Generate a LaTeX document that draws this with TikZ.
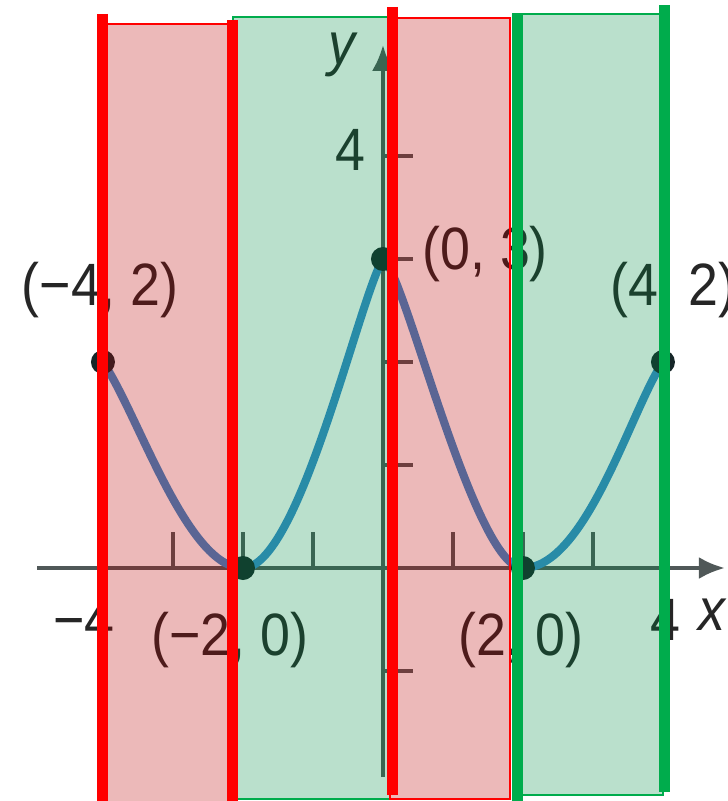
\documentclass[tikz,border=0pt]{standalone}
\usepackage{fontspec}
\setmainfont{Liberation Sans}[FakeStretch=0.9]
\usetikzlibrary{arrows.meta}

\definecolor{axisgray}{RGB}{80,88,88}
\definecolor{curveblue}{RGB}{55,140,205}
\definecolor{dotdark}{RGB}{22,38,40}
\definecolor{labelgray}{RGB}{38,38,38}
\definecolor{bandred}{RGB}{186,0,0}
\definecolor{bandgreen}{RGB}{0,139,68}
\definecolor{bargreen}{RGB}{0,172,76}

\begin{document}
\begin{tikzpicture}[
		x=0.7cm, y=1.03cm,
		axis/.style={draw=axisgray, line width=1.2pt},
		tick/.style={draw=axisgray, line width=0.9pt},
		curve/.style={draw=curveblue, line width=2.3pt, line cap=round},
		dot/.style={fill=dotdark},
		lbl/.style={text=labelgray, font=\fontsize{17}{19}\selectfont, inner sep=0pt},
		redband/.style={fill=bandred, fill opacity=0.275, draw=red, line width=0.5pt},
		greenband/.style={fill=bandgreen, fill opacity=0.27, draw=bargreen, line width=0.5pt},
		redbar/.style={draw=red, line width=0.11cm},
		greenbar/.style={draw=bargreen, line width=0.11cm}
		]
		\useasboundingbox (-5.471,-2.262) rectangle (4.929,5.515);
		
		% points of the graph
		\coordinate (pA) at (-4,2);
		\coordinate (pB) at (-2,0);
		\coordinate (pC) at (0,3);
		\coordinate (pD) at (2,0);
		\coordinate (pE) at (4,2);
		
		% axes
		\coordinate (xstart) at (-4.94,0);
		\coordinate (xend) at (4.886,0);
		\coordinate (ystart) at (0,-2.03);
		\coordinate (yend) at (0,5.08);
		\draw[axis,-{Latex[length=0.26cm,width=0.22cm]}] (xstart) -- (xend);
		\draw[axis,-{Latex[length=0.26cm,width=0.22cm]}] (ystart) -- (yend);
		\foreach \t in {-4,-3,-2,-1,1,2,3,4}
		\draw[tick] (\t,0) -- ++(0,0.36cm);
		\foreach \t in {-1,1,2,3,4}
		\draw[tick] (0,\t) -- ++(0.3cm,0);
		
		% the curve
		\draw[curve] (pA) .. controls (-3.5,1.5) and (-2.8,0) .. (pB)
		.. controls (-1.2,0) and (-0.35,2.6) .. (pC)
		.. controls (0.3,2.9) and (1.3,0) .. (pD)
		.. controls (2.9,0) and (3.55,1.55) .. (pE);
		\foreach \p in {pA,pB,pC,pD,pE}
		\fill[dot] (\p) circle (0.12cm);
		
		% labels
		\node[lbl] (lA) at (-4.04,2.70) {(−4, 2)};
		\node[lbl] (lC) at (1.46,3.05) {(0, 3)};
		\node[lbl] (lE) at (4.15,2.70) {(4, 2)};
		\node[lbl] (lB) at (-2.19,-0.70) {(−2, 0)};
		\node[lbl] (lD) at (1.97,-0.70) {(2, 0)};
		\node[lbl] (xmin) at (-4.27,-0.50) {−4};
		\node[lbl] (xmax) at (4.03,-0.50) {4};
		\node[lbl] (ymax) at (-0.47,4.06) {4};
		\node[lbl] (xname) at (4.7,-0.45) {\itshape x};
		\node[lbl] (yname) at (-0.59,4.98) {\itshape y};
		
		% shaded bands
		\path[redband] (-4,5.282) rectangle (-2.143,-2.3);
		\path[greenband] (-2.143,5.350) rectangle (0.1,-2.243);
		\path[redband] (0.1,5.340) rectangle (1.814,-2.243);
		\path[greenband] (1.857,5.379) rectangle (4.0,-2.204);
		
		% bars
		\draw[redbar] (-4,5.379) -- (-4,-2.3);
		\draw[redbar] (-2.143,5.320) -- (-2.143,-2.3);
		\draw[redbar] (0.143,5.447) -- (0.143,-2.204);
		\draw[greenbar] (1.929,5.379) -- (1.929,-2.3);
		\draw[greenbar] (4.029,5.466) -- (4.029,-2.175);
		
	\end{tikzpicture}
\end{document}
